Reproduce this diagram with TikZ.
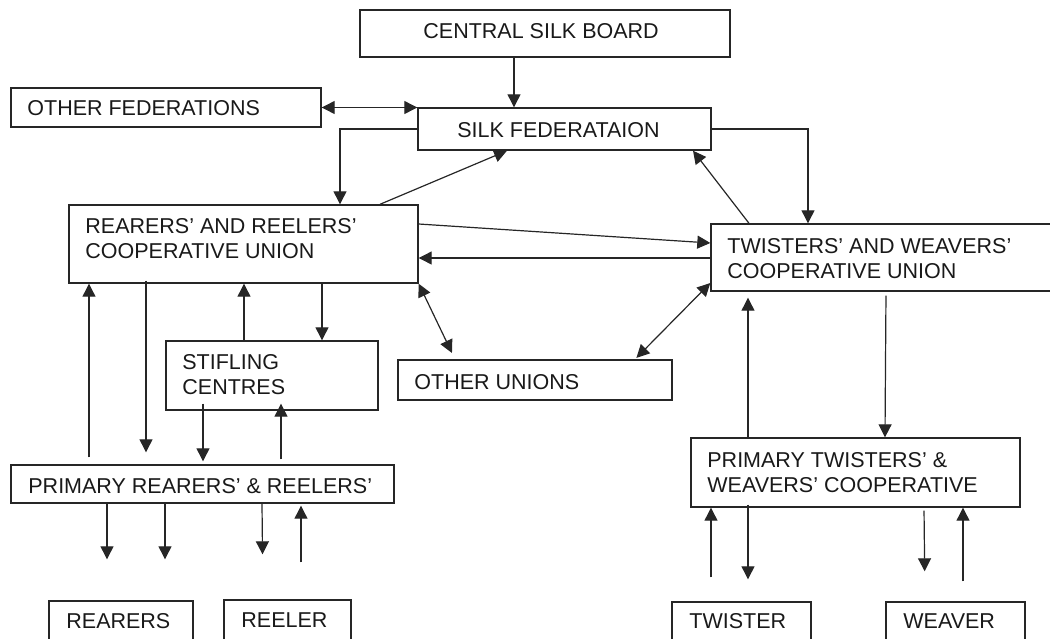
\documentclass[tikz,border=0pt]{standalone}
\usepackage{fontspec}
\setmainfont{Liberation Sans}
\usetikzlibrary{arrows.meta}
\begin{document}
\begin{tikzpicture}[x=0.5pt,y=-0.5pt,
  box/.style={draw=black!85,line width=0.7pt,inner sep=0pt,rectangle},
  txt/.style={anchor=base west,inner sep=0pt,text=black!90,font=\fontsize{10.75}{12.5}\selectfont},
  conn/.style={draw=black!85,line width=0.6pt,-{Triangle[length=6.5pt,width=6.5pt]}},
  dconn/.style={draw=black!85,line width=0.6pt,{Triangle[length=6.5pt,width=6.5pt]}-{Triangle[length=6.5pt,width=6.5pt]}}]
\useasboundingbox (0,0) rectangle (1050,638);
\clip (0,0) rectangle (1050,638);
% boxes
\node[box,minimum width=185pt,minimum height=23.5pt] (csb) at (545,33.5) {};
\node[box,minimum width=155pt,minimum height=19.5pt] (ofed) at (166,107.5) {};
\node[box,minimum width=146.5pt,minimum height=21pt] (sfed) at (564.5,129) {};
\node[box,minimum width=174.5pt,minimum height=39pt] (rru) at (243.5,244) {};
\node[box,minimum width=179.5pt,minimum height=33.5pt] (twu) at (890.5,257.5) {};
\node[box,minimum width=106pt,minimum height=34.5pt] (stif) at (272,375.5) {};
\node[box,minimum width=137pt,minimum height=20pt] (ounion) at (535,380) {};
\node[box,minimum width=191.5pt,minimum height=19pt] (prr) at (202.5,484) {};
\node[box,minimum width=164.5pt,minimum height=34.5pt] (ptw) at (855.5,472.5) {};
\node[box,minimum width=72pt,minimum height=29.5pt] (rearers) at (121,630.5) {};
\node[box,minimum width=63.5pt,minimum height=30pt] (reeler) at (287.5,630) {};
\node[box,minimum width=69.5pt,minimum height=29pt] (twister) at (741.5,631) {};
\node[box,minimum width=69.5pt,minimum height=29pt] (weaver) at (955.5,631) {};
% texts
\node[txt] (tcsb) at (423,38) {CENTRAL SILK BOARD};
\node[txt] (tofed) at (27,115) {OTHER FEDERATIONS};
\node[txt] (tsfed) at (457,137) {SILK FEDERATAION};
\node[txt] (trru1) at (85,233) {REARERS’ AND REELERS’};
\node[txt] (trru2) at (85,258) {COOPERATIVE UNION};
\node[txt] (ttwu1) at (727,253) {TWISTERS’ AND WEAVERS’};
\node[txt] (ttwu2) at (727,278) {COOPERATIVE UNION};
\node[txt] (tstif1) at (182,369) {STIFLING};
\node[txt] (tstif2) at (182,394) {CENTRES};
\node[txt] (toun) at (414,389) {OTHER UNIONS};
\node[txt] (tprr) at (28,493) {PRIMARY REARERS’ \& REELERS’};
\node[txt] (tptw1) at (707,467) {PRIMARY TWISTERS’ \&};
\node[txt] (tptw2) at (707,492) {WEAVERS’ COOPERATIVE};
\node[txt] (trear) at (66,628) {REARERS};
\node[txt] (treel) at (241,627) {REELER};
\node[txt] (ttwis) at (689,628) {TWISTER};
\node[txt] (tweav) at (903,628) {WEAVER};
% connectors
\draw[conn] (514,0 |- csb.south) -- (514,0 |- sfed.north);
\draw[dconn] (ofed.east) -- (sfed.north west |- ofed.east);
\draw[conn] (sfed.west) -| (340,0 |- rru.north);
\draw[conn] (380,0 |- rru.north) -- (507,0 |- sfed.south);
\draw[conn] (sfed.east) -| (808,0 |- twu.north);
\draw[conn] (749,0 |- twu.north) -- (693,0 |- sfed.south);
\draw[conn] (rru.east |- 0,224) -- (twu.west |- 0,243);
\draw[conn] (twu.west |- 0,258) -- (rru.east |- 0,258);
\draw[dconn,shorten >=3.5pt] (rru.south east) -- (455,0 |- ounion.north);
\draw[dconn,shorten >=1pt] (twu.west |- 0,283) -- (635,0 |- ounion.north);
\draw[conn] (322,0 |- rru.south) -- (322,0 |- stif.north);
\draw[conn] (244,0 |- stif.north) -- (244,0 |- rru.south);
\draw[conn,shorten <=-1.5pt,shorten >=6pt] (146,0 |- rru.south) -- (146,0 |- prr.north);
\draw[conn,shorten <=3.5pt] (89,0 |- prr.north) -- (89,0 |- rru.south);
\draw[conn,shorten <=-3.5pt,shorten >=1.5pt] (203,0 |- stif.south) -- (203,0 |- prr.north);
\draw[conn,shorten <=2.5pt,shorten >=-3.5pt] (281,0 |- prr.north) -- (281,0 |- stif.south);
\draw[conn,shorten >=20.5pt] (107,0 |- prr.south) -- (107,0 |- rearers.north);
\draw[conn,shorten >=20.5pt] (165,0 |- prr.south) -- (165,0 |- rearers.north);
\draw[conn,shorten >=22.5pt] (262,0 |- prr.south) -- (263,0 |- reeler.north);
\draw[conn,shorten <=18.5pt,shorten >=1pt] (301,0 |- reeler.north) -- (301,0 |- prr.south);
\draw[conn,shorten <=2pt] (886,0 |- twu.south) -- (885,0 |- ptw.north);
\draw[conn,shorten >=3pt] (748,0 |- ptw.north) -- (748,0 |- twu.south);
\draw[conn,shorten <=12pt] (711,0 |- twister.north) -- (711,0 |- ptw.south);
\draw[conn,shorten >=11pt,shorten <=-1.5pt] (748,0 |- ptw.south) -- (748,0 |- twister.north);
\draw[conn,shorten <=1.5pt,shorten >=15pt] (924,0 |- ptw.south) -- (925,0 |- weaver.north);
\draw[conn,shorten <=10pt] (963,0 |- weaver.north) -- (963,0 |- ptw.south);
\end{tikzpicture}
\end{document}
